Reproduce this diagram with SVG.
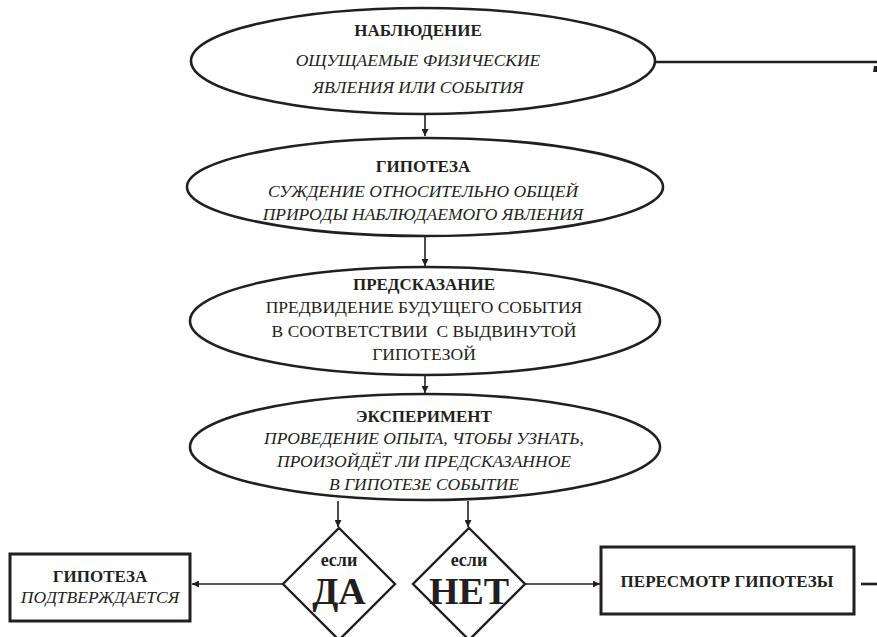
<svg xmlns="http://www.w3.org/2000/svg" width="877" height="637" viewBox="0 0 877 637">
<style>
.shape{fill:#fff;stroke:#231f20;stroke-width:2.6}
.box{fill:#fff;stroke:#231f20;stroke-width:3}
.dia{fill:#fff;stroke:#231f20;stroke-width:2.4}
.con{fill:none;stroke:#231f20;stroke-width:1.6}
.thick{fill:none;stroke:#231f20;stroke-width:2.6}
text{fill:#231f20;text-anchor:middle;font-family:"Liberation Serif","DejaVu Serif","Noto Serif",Tinos,FreeSerif,"Times New Roman",Times,serif}
.t{font-size:17px;font-weight:bold}
.i{font-size:17.5px;font-style:italic}
.n{font-size:17.5px}
.esli{font-size:18px;font-weight:bold}
.big{font-size:38px;font-weight:bold}
</style>
<defs>
<marker id="ah" viewBox="0 0 10 10" refX="10" refY="5" markerWidth="7" markerHeight="7" orient="auto" markerUnits="userSpaceOnUse">
<path d="M0,0 L10,5 L0,10 z" fill="#231f20"/>
</marker>
</defs>
<rect width="877" height="637" fill="#fff"/>
<g id="connectors">
<line class="con" x1="425" y1="114" x2="425" y2="136" marker-end="url(#ah)"/>
<line class="con" x1="425" y1="236" x2="425" y2="266" marker-end="url(#ah)"/>
<line class="con" x1="425" y1="375" x2="425" y2="393" marker-end="url(#ah)"/>
<line class="con" x1="338" y1="501" x2="338" y2="527" marker-end="url(#ah)"/>
<line class="con" x1="468" y1="501" x2="468" y2="527" marker-end="url(#ah)"/>
<line class="con" x1="283" y1="584" x2="192" y2="584" marker-end="url(#ah)"/>
<line class="con" x1="525" y1="584" x2="600" y2="584" marker-end="url(#ah)"/>
<line class="thick" x1="655" y1="62" x2="877" y2="62"/>
<polygon points="874,66 880,66 877,72 873,72" fill="#231f20"/>
<line class="thick" x1="861" y1="584" x2="877" y2="584"/>
</g>
<g id="observation">
<ellipse class="shape" cx="423" cy="61" rx="232" ry="53"/>
<text class="t" x="418" y="36">НАБЛЮДЕНИЕ</text>
<text class="i" x="418" y="66">ОЩУЩАЕМЫЕ ФИЗИЧЕСКИЕ</text>
<text class="i" x="418" y="93">ЯВЛЕНИЯ ИЛИ СОБЫТИЯ</text>
</g>
<g id="hypothesis">
<ellipse class="shape" cx="425" cy="187" rx="238" ry="49"/>
<text class="t" x="423" y="172">ГИПОТЕЗА</text>
<text class="i" x="423" y="197">СУЖДЕНИЕ ОТНОСИТЕЛЬНО ОБЩЕЙ</text>
<text class="i" x="423" y="220">ПРИРОДЫ НАБЛЮДАЕМОГО ЯВЛЕНИЯ</text>
</g>
<g id="prediction">
<ellipse class="shape" cx="425" cy="321" rx="235" ry="54"/>
<text class="t" x="424" y="290">ПРЕДСКАЗАНИЕ</text>
<text class="n" x="424" y="313">ПРЕДВИДЕНИЕ БУДУЩЕГО СОБЫТИЯ</text>
<text class="n" x="424" y="337" xml:space="preserve">В СООТВЕТСТВИИ  С ВЫДВИНУТОЙ</text>
<text class="n" x="424" y="360">ГИПОТЕЗОЙ</text>
</g>
<g id="experiment">
<ellipse class="shape" cx="425" cy="447" rx="235" ry="53"/>
<text class="t" x="424" y="422">ЭКСПЕРИМЕНТ</text>
<text class="i" x="424" y="444">ПРОВЕДЕНИЕ ОПЫТА, ЧТОБЫ УЗНАТЬ,</text>
<text class="i" x="424" y="467">ПРОИЗОЙДЁТ ЛИ ПРЕДСКАЗАННОЕ</text>
<text class="i" x="424" y="490">В ГИПОТЕЗЕ СОБЫТИЕ</text>
</g>
<g id="yes">
<polygon class="dia" points="339,528 395,584 339,640 283,584"/>
<text class="esli" x="339" y="566">если</text>
<text class="big" x="339" y="604">ДА</text>
</g>
<g id="no">
<polygon class="dia" points="469,528 525,584 469,640 413,584"/>
<text class="esli" x="469" y="566">если</text>
<text class="big" x="469" y="604">НЕТ</text>
</g>
<g id="confirmed">
<rect class="box" x="10" y="554" width="180" height="67"/>
<text class="t" x="100" y="582">ГИПОТЕЗА</text>
<text class="i" x="100" y="603">ПОДТВЕРЖДАЕТСЯ</text>
</g>
<g id="revision">
<rect class="box" x="601" y="547" width="253" height="67"/>
<text class="t" x="727" y="587">ПЕРЕСМОТР ГИПОТЕЗЫ</text>
</g>
</svg>
